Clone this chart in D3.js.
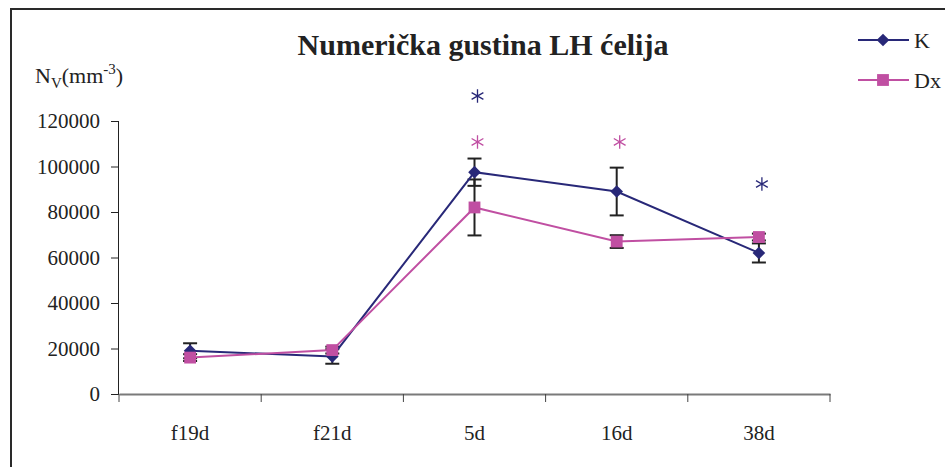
<!DOCTYPE html>
<html>
<head>
<meta charset="utf-8">
<script src="https://cdn.jsdelivr.net/npm/d3@7"></script>
<style>
  body { margin: 0; background: #fff; }
</style>
</head>
<body>
<div id="chart"></div>
<script>
// data
const categories = ['f19d', 'f21d', '5d', '16d', '38d'];
const kValues  = [19000, 16500, 97500, 89000, 62000];
const kErrors  = [3300, 3200, 6000, 10500, 4200];
const dxValues = [16000, 19300, 82000, 67000, 69000];
const dxErrors = [1500, 1500, 12300, 2800, 1500];
const yTicks = [0, 20000, 40000, 60000, 80000, 100000, 120000];
// significance asterisks: [category, series, height in data units]
const stars = [['5d', 'K', 131000], ['5d', 'Dx', 110800], ['16d', 'Dx', 110800], ['38d', 'K', 92300]];

const FONT = "'Liberation Serif', 'Times New Roman', Tinos, Times, 'DejaVu Serif', serif";

const width = 945, height = 467;
const margin = {top: 121, left: 119, right: 115, bottom: 73};
const w = width - margin.left - margin.right;
const h = height - margin.top - margin.bottom;

const colours = {K: '#282878', Dx: '#c04fa2'};

const svg = d3.select('#chart').append('svg')
    .attr('width', width)
    .attr('height', height)
    .style('font-family', FONT);

// frame (left and top edges only visible)
svg.append('path')
    .attr('d', `M11,${height} L11,9 L${width},9`)
    .attr('fill', 'none')
    .attr('stroke', '#2a2a2a')
    .attr('stroke-width', 2);

const g = svg.append('g')
    .attr('transform', `translate(${margin.left}, ${margin.top})`);

const x = d3.scaleBand().domain(categories).range([0, w]);
const y = d3.scaleLinear().domain([0, 120000]).range([h, 0]);

// Y axis
const yAxis = g.append('g')
    .call(d3.axisLeft(y).tickValues(yTicks).tickSize(8).tickPadding(11).tickFormat(d3.format('d')));
yAxis.attr('font-family', null).attr('font-size', null);
yAxis.select('.domain').attr('stroke', '#222').attr('d', `M-0.5,0 V${h}`);
yAxis.selectAll('.tick line').attr('stroke', '#222');
yAxis.selectAll('text')
    .style('font-family', FONT).style('font-size', '21px').attr('fill', '#222');

// X axis
const xAxis = g.append('g')
    .attr('transform', `translate(0, ${h})`)
    .call(d3.axisBottom(x).tickSize(0).tickPadding(0));
xAxis.attr('font-family', null).attr('font-size', null);
xAxis.select('.domain').attr('stroke', '#7a7a7a').attr('stroke-width', 2);
xAxis.selectAll('text')
    .attr('y', 46).attr('dy', 0)
    .style('font-family', FONT).style('font-size', '21px').attr('fill', '#222');

const edges = categories.map(c => x(c)).concat([x(categories[categories.length - 1]) + x.bandwidth()]);
g.selectAll('.xedge')
    .data(edges)
    .enter()
    .append('line')
    .attr('x1', d => d).attr('x2', d => d)
    .attr('y1', h).attr('y2', h + 8)
    .attr('stroke', '#444');

// title and y label
svg.append('text')
    .attr('x', 483).attr('y', 55)
    .attr('text-anchor', 'middle')
    .attr('fill', '#222')
    .style('font-family', FONT)
    .style('font-size', '30px').style('font-weight', 'bold')
    .text('Numerička gustina LH ćelija');

const yl = svg.append('text').attr('x', 35).attr('y', 83)
    .attr('fill', '#222').style('font-family', FONT).style('font-size', '22px');
yl.append('tspan').text('N');
yl.append('tspan').attr('dy', 5).style('font-size', '15px').text('V');
yl.append('tspan').attr('dy', -5).text('(mm');
yl.append('tspan').attr('dy', -9).style('font-size', '15px').text('-3');
yl.append('tspan').attr('dy', 9).text(')');

const cx = c => x(c) + x.bandwidth() / 2;

// K uses a square turned 45 degrees (Excel-style diamond)
const series = [
  {name: 'K', values: kValues, errors: kErrors, symbol: d3.symbolSquare, size: 80, rotate: 45},
  {name: 'Dx', values: dxValues, errors: dxErrors, symbol: d3.symbolSquare, size: 140, rotate: 0}
];

// error bars drawn first, markers on top
series.forEach(s => {
  const eb = g.append('g').attr('stroke', '#222').attr('stroke-width', 2);
  categories.forEach((c, i) => {
    const hi = y(s.values[i] + s.errors[i]);
    const lo = y(s.values[i] - s.errors[i]);
    eb.append('line').attr('x1', cx(c)).attr('x2', cx(c)).attr('y1', hi).attr('y2', lo);
    eb.append('line').attr('x1', cx(c) - 7).attr('x2', cx(c) + 7).attr('y1', hi).attr('y2', hi);
    eb.append('line').attr('x1', cx(c) - 7).attr('x2', cx(c) + 7).attr('y1', lo).attr('y2', lo);
  });
});

series.forEach(s => {
  const line = d3.line()
      .x((d, i) => cx(categories[i]))
      .y(d => y(d));

  g.append('path')
      .datum(s.values)
      .attr('fill', 'none')
      .attr('stroke', colours[s.name])
      .attr('stroke-width', 2)
      .attr('d', line);

  g.selectAll('.m-' + s.name)
      .data(s.values)
      .enter()
      .append('path')
      .attr('transform', (d, i) => `translate(${cx(categories[i])}, ${y(d)}) rotate(${s.rotate})`)
      .attr('d', d3.symbol().type(s.symbol).size(s.size))
      .attr('fill', colours[s.name]);
});

// asterisks
g.selectAll('.star')
    .data(stars)
    .enter()
    .append('path')
    .attr('transform', d => `translate(${cx(d[0]) + 3}, ${y(d[2])})`)
    .attr('d', d3.symbol().type(d3.symbolAsterisk).size(130))
    .attr('fill', 'none')
    .attr('stroke', d => colours[d[1]])
    .attr('stroke-width', 1.3);

// legend
const legend = svg.append('g');
series.forEach((s, i) => {
  const ly = 40 + i * 40;
  legend.append('line')
      .attr('x1', 858).attr('x2', 909).attr('y1', ly).attr('y2', ly)
      .attr('stroke', colours[s.name]).attr('stroke-width', 2);
  legend.append('path')
      .attr('transform', `translate(883, ${ly}) rotate(${s.rotate})`)
      .attr('d', d3.symbol().type(s.symbol).size(s.size))
      .attr('fill', colours[s.name]);
  legend.append('text')
      .attr('x', 914).attr('y', ly + 8)
      .attr('fill', '#222')
      .style('font-family', FONT)
      .style('font-size', '22px')
      .text(s.name);
});
</script>
</body>
</html>
